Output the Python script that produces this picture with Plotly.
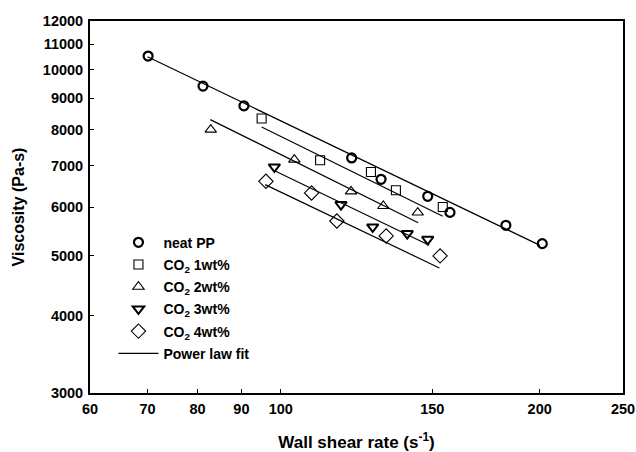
import plotly.graph_objects as go
import math

# ---- data ----
series_names = ["neat PP", "CO<sub>2</sub> 1wt%", "CO<sub>2</sub> 2wt%", "CO<sub>2</sub> 3wt%", "CO<sub>2</sub> 4wt%"]

neat_x = [70.1, 81.2, 90.6, 120.9, 130.8, 148.2, 157.3, 182.7, 201.4]
neat_y = [10530, 9415, 8745, 7204, 6653, 6244, 5881, 5604, 5234]

co2_1_x = [95.0, 111.1, 127.3, 136.1, 154.3]
co2_1_y = [8342, 7142, 6837, 6386, 6000]

co2_2_x = [82.9, 103.7, 120.7, 131.6, 144.3]
co2_2_y = [8006, 7159, 6359, 6023, 5877]

co2_3_x = [98.3, 117.5, 127.9, 140.3, 148.2]
co2_3_y = [6965, 6054, 5570, 5435, 5320]

co2_4_x = [96.1, 108.6, 116.2, 132.6, 153.2]
co2_4_y = [6603, 6322, 5695, 5386, 5000]

# power-law fit lines (start / end in data units)
fit_x_start = [70.0, 95.0, 82.8, 98.5, 95.9]
fit_x_end = [200.2, 154.3, 144.5, 148.8, 152.9]
fit_y_start = [10500, 8086, 8310, 6860, 6522]
fit_y_end = [5200, 5797, 5657, 5202, 4781]

x_ticks = [60, 70, 80, 90, 100, 150, 200, 250]
y_ticks = [3000, 4000, 5000, 6000, 7000, 8000, 9000, 10000, 11000, 12000]

# ---- styles ----
xs = [neat_x, co2_1_x, co2_2_x, co2_3_x, co2_4_x]
ys = [neat_y, co2_1_y, co2_2_y, co2_3_y, co2_4_y]
symbols = ["circle-open", "square-open", "triangle-up-open", "triangle-down-open", "diamond-open"]
sizes = [9, 9, 10, 10, 11]
widths = [2.2, 1.1, 1.1, 2.0, 1.1]

FONT = "Liberation Sans, Arial, sans-serif"

fig = go.Figure()
for k, (name, x, y, sym, sz, w) in enumerate(zip(series_names, xs, ys, symbols, sizes, widths)):
    fig.add_trace(go.Scatter(
        x=x, y=y, mode="markers", name=name, legendgroup=f"g{k}",
        marker=dict(symbol=sym, size=sz, color="black", line=dict(color="black", width=w)),
    ))

for i in range(len(fit_x_start)):
    fig.add_trace(go.Scatter(
        x=[fit_x_start[i], fit_x_end[i]], y=[fit_y_start[i], fit_y_end[i]],
        mode="lines", name="Power law fit", showlegend=(i == 0), legendgroup="fit",
        line=dict(color="black", width=1.2),
    ))

axis_common = dict(
    type="log", showgrid=False, zeroline=False, automargin=False,
    showline=True, linecolor="black", linewidth=1.8, mirror=True,
    ticks="inside", ticklen=4, tickwidth=1.2, tickcolor="black",
    tickfont=dict(family=FONT, size=14.5, color="black", weight="bold"),
)

fig.update_xaxes(
    range=[math.log10(x_ticks[0]), math.log10(x_ticks[-1])],
    tickvals=x_ticks, ticktext=[str(v) for v in x_ticks],
    ticklabelstandoff=2,
    title=dict(text="Wall shear rate (s<sup>-1</sup>)", font=dict(family=FONT, size=17, color="black", weight="bold"), standoff=27),
    **axis_common,
)
fig.update_yaxes(
    range=[math.log10(y_ticks[0]), math.log10(y_ticks[-1])],
    tickvals=y_ticks, ticktext=[str(v) for v in y_ticks],
    ticklabelstandoff=2,
    title=dict(text="Viscosity (Pa-s)", font=dict(family=FONT, size=16, color="black", weight="bold"), standoff=14),
    **axis_common,
)

fig.update_layout(
    width=636, height=452,
    margin=dict(l=90, r=13, t=21, b=59, autoexpand=False),
    paper_bgcolor="white", plot_bgcolor="white",
    showlegend=True,
    legend=dict(
        x=0.044, y=0.447, xanchor="left", yanchor="top",
        bgcolor="rgba(0,0,0,0)", borderwidth=0,
        font=dict(family=FONT, size=14, color="black", weight="bold"),
        tracegroupgap=1, itemwidth=40,
    ),
)

fig.write_html("out.html")
